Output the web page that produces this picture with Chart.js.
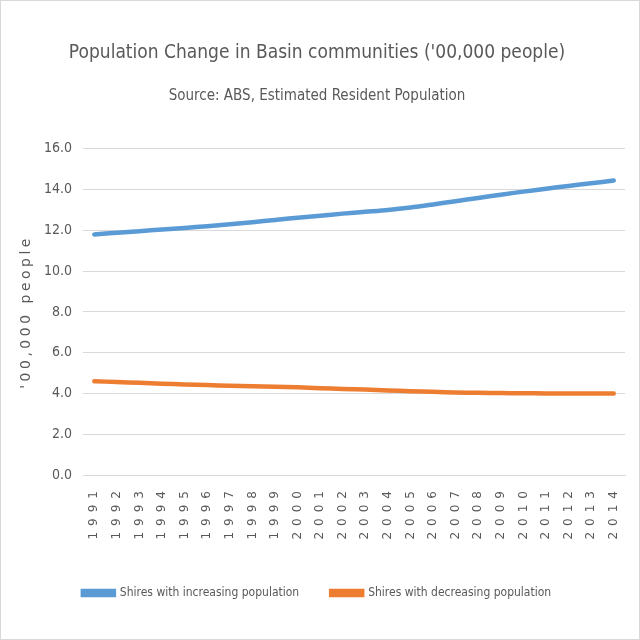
<!DOCTYPE html>
<html><head><meta charset="utf-8">
<script src="https://cdn.jsdelivr.net/npm/chart.js@4/dist/chart.umd.min.js"></script>
<style>
html,body{margin:0;padding:0;background:#fff;}
#wrap{position:absolute;left:0;top:0;width:638px;height:638px;border:1px solid #d9d9d9;}
</style></head>
<body><div id="wrap"><canvas id="c" width="638" height="638"></canvas></div>
<script>
const years = ["1991","1992","1993","1994","1995","1996","1997","1998","1999","2000","2001","2002","2003","2004","2005","2006","2007","2008","2009","2010","2011","2012","2013","2014"];
const increasing = [11.8,11.88,11.96,12.04,12.12,12.2,12.3,12.4,12.51,12.62,12.72,12.82,12.91,13.0,13.12,13.27,13.43,13.59,13.75,13.9,14.04,14.18,14.31,14.44];
const decreasing = [4.6,4.56,4.52,4.48,4.44,4.41,4.38,4.35,4.33,4.3,4.26,4.22,4.19,4.15,4.11,4.08,4.05,4.03,4.02,4.01,4.0,4.0,4.0,4.0];
const seriesNames = ["Shires with increasing population","Shires with decreasing population"];
const titleText = "Population Change in Basin communities ('00,000 people)";
const subtitleText = "Source: ABS, Estimated Resident Population";
const yTitle = "'00,000 people";

const narrow = "'Liberation Sans Narrow','DejaVu Sans Condensed',sans-serif";
const wide = "'DejaVu Sans',sans-serif";
const gray = "#595959";

const spacingPlugin = {
  id: 'spacing',
  beforeDraw(chart) {
    const ctx = chart.ctx;
    const xs = chart.scales.x, ys = chart.scales.y;
    if (!xs._sp) {
      const o = xs.drawLabels;
      xs.drawLabels = function (a) { ctx.save(); ctx.letterSpacing = '6px'; o.call(this, a); ctx.restore(); };
      xs._sp = true;
    }
    if (!ys._sp) {
      const o = ys.drawTitle;
      ys.drawTitle = function () { ctx.save(); ctx.letterSpacing = '3.5px'; o.call(this); ctx.restore(); };
      ys._sp = true;
    }
  }
};

new Chart(document.getElementById('c'), {
  type: 'line',
  data: {
    labels: years,
    datasets: [
      {label: seriesNames[0], data: increasing, borderColor:'#5b9bd5', backgroundColor:'#5b9bd5', borderWidth:4.5, pointRadius:0, tension:0.3, borderCapStyle:'round'},
      {label: seriesNames[1], data: decreasing, borderColor:'#ed7d31', backgroundColor:'#ed7d31', borderWidth:4.5, pointRadius:0, tension:0.3, borderCapStyle:'round'}
    ]
  },
  plugins: [spacingPlugin],
  options: {
    responsive:false, animation:false,
    layout:{padding:{left:8,right:14,top:0,bottom:30}},
    plugins:{
      title:{display:true,text:titleText,color:gray,font:{family:narrow,size:19,weight:'normal'},padding:{top:41,bottom:22}},
      subtitle:{display:true,text:subtitleText,color:gray,font:{family:narrow,size:15,weight:'normal'},padding:{top:0,bottom:44}},
      legend:{position:'bottom',labels:{color:gray,font:{family:narrow,size:12},boxWidth:31,boxHeight:4,padding:32}},
      tooltip:{enabled:false}
    },
    scales:{
      x:{offset:true,grid:{display:false,drawTicks:false},border:{color:'#d9d9d9',width:1},
         afterFit:s=>{s.height=80;},
         ticks:{color:gray,maxRotation:90,minRotation:90,autoSkip:false,padding:10,font:{family:wide,size:12}}},
      y:{min:0,max:16,grid:{color:'#d9d9d9',drawTicks:false},border:{display:false},
         afterFit:s=>{s.width=74;},
         ticks:{stepSize:2,color:gray,padding:11,font:{family:narrow,size:14},callback:v=>v.toFixed(1)},
         title:{display:true,text:yTitle,color:gray,font:{family:wide,size:14},padding:{top:9,bottom:0}}}
    }
  }
});
</script></body></html>
